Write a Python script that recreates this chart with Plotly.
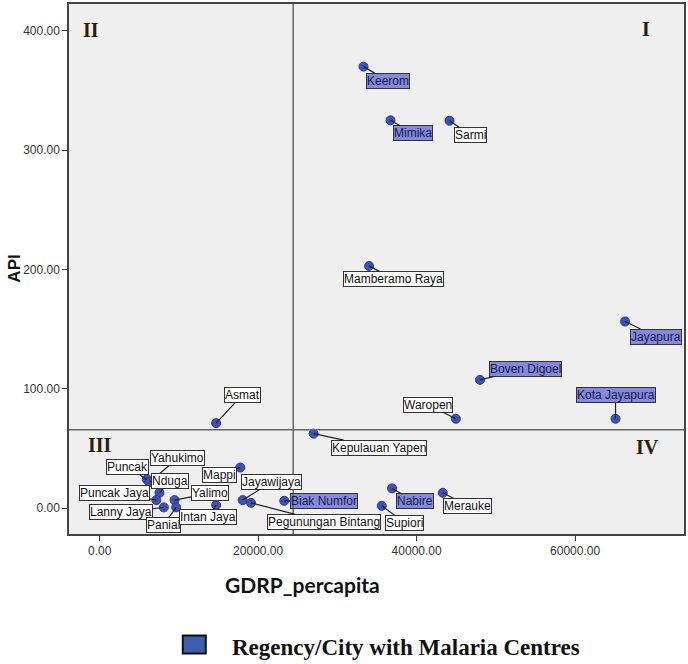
import plotly.graph_objects as go

# ---------------- data ----------------
names = ["Keerom", "Mimika", "Sarmi", "Mamberamo Raya", "Jayapura", "Boven Digoel",
         "Kota Jayapura", "Waropen", "Asmat", "Kepulauan Yapen", "Mappi", "Puncak",
         "Yahukimo", "Nduga", "Puncak Jaya", "Lanny Jaya", "Yalimo", "Paniai",
         "Intan Jaya", "Jayawijaya", "Pegunungan Bintang", "Biak Numfor", "Nabire",
         "Supiori", "Merauke"]
gdrp = [33300, 36700, 44150, 34000, 66300, 48000,
        65100, 44950, 14700, 27000, 17750, 5950,
        6300, 7550, 7150, 8100, 9450, 9650,
        14700, 18050, 19100, 23300, 36900,
        35600, 43300]
api = [370.0, 325.0, 324.6, 203.0, 156.4, 107.5,
       74.9, 74.9, 71.2, 62.4, 34.0, 24.0,
       21.7, 12.8, 6.7, 0.6, 6.7, 0.6,
       2.5, 6.7, 4.4, 6.1, 16.5,
       1.9, 12.8]
malaria_centre = ["Keerom", "Mimika", "Jayapura", "Boven Digoel", "Kota Jayapura",
                  "Biak Numfor", "Nabire"]
x_ref_line = 24420
y_ref_line = 65.7
quadrants = ["I", "II", "III", "IV"]
x_title = "GDRP_percapita"
y_title = "API"
legend_text = "Regency/City with Malaria Centres"

# label offsets (pixels from the point to the label centre)
label_offsets = {
    "Keerom": (24, 14), "Mimika": (23, 13), "Sarmi": (21, 14),
    "Mamberamo Raya": (24, 13), "Jayapura": (31, 15), "Boven Digoel": (45, -11),
    "Kota Jayapura": (0, -24), "Waropen": (-28, -14), "Asmat": (26, -28),
    "Kepulauan Yapen": (65, 14), "Mappi": (-21, 7), "Puncak": (-19, -12),
    "Yahukimo": (28, -24), "Nduga": (11, -12), "Puncak Jaya": (-42, -7),
    "Lanny Jaya": (-43, 5), "Yalimo": (35, -7), "Paniai": (-13, 18),
    "Intan Jaya": (-8, 12), "Jayawijaya": (29, -18), "Pegunungan Bintang": (73, 19),
    "Biak Numfor": (40, 0), "Nabire": (23, 13), "Supiori": (23, 17),
    "Merauke": (25, 13),
}

fig = go.Figure()
fig.add_trace(go.Scatter(
    x=gdrp, y=api, mode="markers",
    marker=dict(size=9, color="#3f52b3", line=dict(color="#2a3a90", width=1)),
    hovertext=names, showlegend=False,
))

annotations = []
for n, xv, yv in zip(names, gdrp, api):
    ax, ay = label_offsets[n]
    hl = n in malaria_centre
    annotations.append(dict(
        x=xv, y=yv, xref="x", yref="y", text=n, showarrow=True,
        ax=ax, ay=ay, arrowhead=0, arrowwidth=1.2, arrowcolor="#222222",
        standoff=0, startstandoff=0,
        font=dict(family="Arial", size=12, color="#1a1a50" if hl else "#111111"),
        bgcolor="rgba(85,95,210,0.7)" if hl else "#ffffff",
        bordercolor="#333333", borderwidth=1, borderpad=0,
    ))

# quadrant numerals
quad_pos = {"I": (0.938, 0.953), "II": (0.036, 0.951), "III": (0.050, 0.167), "IV": (0.940, 0.1635)}
for q in quadrants:
    px, py = quad_pos[q]
    annotations.append(dict(
        x=px, y=py, xref="paper", yref="paper", text="<b>%s</b>" % q, showarrow=False,
        font=dict(family="Liberation Serif", size=20, color="#2b1d0e"),
        xanchor="center", yanchor="middle",
    ))

# axis titles
annotations.append(dict(x=0.38, y=-0.096, xref="paper", yref="paper",
                        text="<b>%s</b>" % x_title, showarrow=False,
                        font=dict(family="Lato", size=21, color="#111111"),
                        xanchor="center", yanchor="middle"))
annotations.append(dict(x=-0.090, y=0.5, xref="paper", yref="paper",
                        text="<b>%s</b>" % y_title, showarrow=False, textangle=-90,
                        font=dict(family="Arial", size=17, color="#111111"),
                        xanchor="center", yanchor="middle"))
# legend text
annotations.append(dict(x=0.2614, y=-0.2143, xref="paper", yref="paper",
                        text="<b>%s</b>" % legend_text, showarrow=False,
                        font=dict(family="Liberation Serif", size=23, color="#111111"),
                        xanchor="left", yanchor="middle"))

shapes = [
    dict(type="line", xref="x", yref="paper", x0=x_ref_line, x1=x_ref_line, y0=0, y1=1,
         line=dict(color="#666666", width=1.5)),
    dict(type="line", xref="paper", yref="y", x0=0, x1=1, y0=y_ref_line, y1=y_ref_line,
         line=dict(color="#666666", width=1.5)),
    dict(type="rect", xref="paper", yref="paper", x0=0.185, x1=0.2224, y0=-0.1917, y1=-0.2256,
         fillcolor="#3f5ea8", line=dict(color="#111111", width=2)),
]

fig.update_layout(
    width=688, height=664,
    margin=dict(l=69, r=3, t=2, b=130),
    paper_bgcolor="#ffffff", plot_bgcolor="#efefef",
    annotations=annotations, shapes=shapes,
    showlegend=False,
)
fig.update_xaxes(range=[-3870, 73740], tick0=0, dtick=20000, tickformat=".2f",
                 showgrid=False, zeroline=False, ticks="outside", ticklen=5,
                 tickcolor="#333333", showline=True, mirror=True, linecolor="#444444",
                 linewidth=1.5, tickfont=dict(family="Arial", size=12, color="#333333"))
fig.update_yaxes(range=[-21.7, 422.5], tick0=0, dtick=100, tickformat=".2f",
                 showgrid=False, zeroline=False, ticks="outside", ticklen=5,
                 tickcolor="#333333", showline=True, mirror=True, linecolor="#444444",
                 linewidth=1.5, tickfont=dict(family="Arial", size=12, color="#333333"))

fig.write_html("out.html")
